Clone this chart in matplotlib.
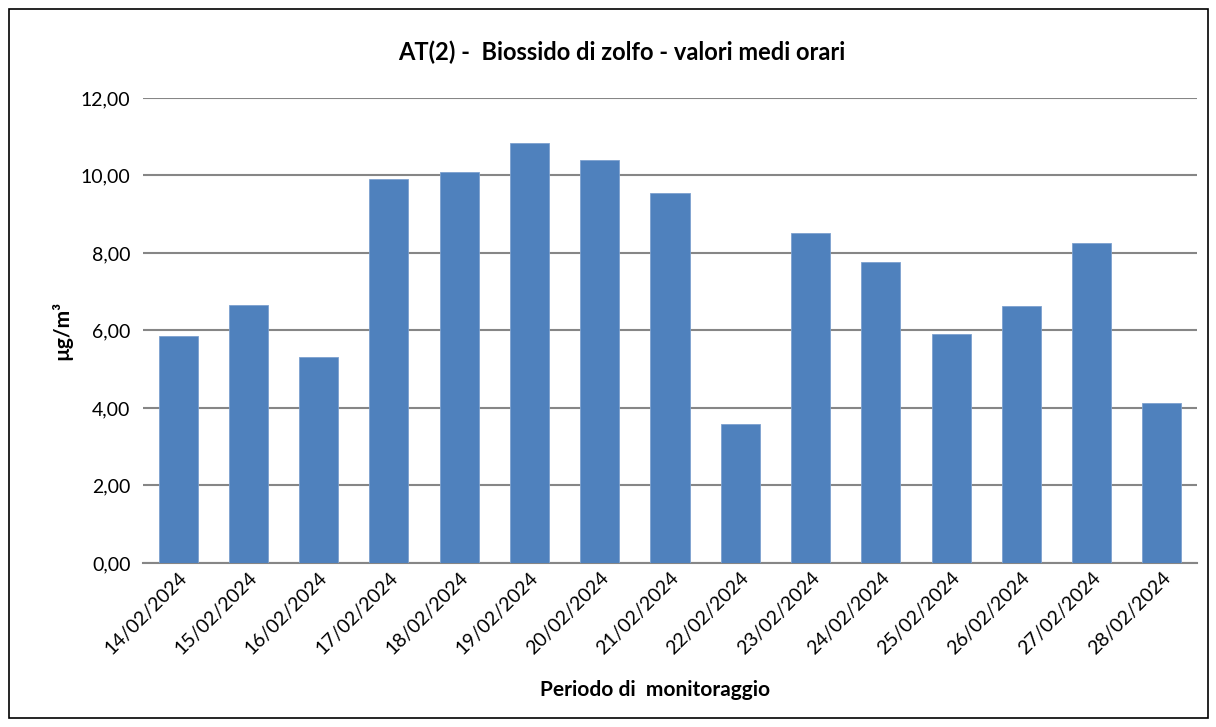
import numpy as np
import matplotlib.pyplot as plt
from matplotlib.patches import Rectangle
from matplotlib.ticker import FuncFormatter

dates = ["14/02/2024", "15/02/2024", "16/02/2024", "17/02/2024", "18/02/2024",
         "19/02/2024", "20/02/2024", "21/02/2024", "22/02/2024", "23/02/2024",
         "24/02/2024", "25/02/2024", "26/02/2024", "27/02/2024", "28/02/2024"]
so2 = [5.86, 6.66, 5.32, 9.90, 10.08, 10.84, 10.41, 9.55,
       3.59, 8.51, 7.78, 5.92, 6.63, 8.25, 4.13]

plt.rcParams['font.family'] = ['Lato', 'DejaVu Sans']

fig = plt.figure(figsize=(12.16, 7.27), dpi=100)
ax = fig.add_axes([0.1176, 0.2256, 0.8668, 0.6396])

x = np.arange(len(dates))
ax.bar(x, so2, width=0.556, color='#4F81BD', edgecolor='#7DA1CF', linewidth=0.6, zorder=3)

ax.set_xlim(-0.5, len(dates) - 0.5)
ax.set_ylim(0, 12)
ax.set_yticks(np.arange(0, 12.1, 2))
ax.yaxis.set_major_formatter(FuncFormatter(lambda v, p: f"{v:.2f}".replace('.', ',')))
ax.grid(axis='y', color='#868686', linewidth=1.5, zorder=0)

for s in ['top', 'right', 'left']:
    ax.spines[s].set_visible(False)
ax.spines['bottom'].set_color('#868686')
ax.spines['bottom'].set_linewidth(1.5)
ax.tick_params(axis='y', length=0, labelsize=14, pad=9)
ax.tick_params(axis='x', length=0, labelsize=14, pad=4)

ax.set_xticks(x)
ax.set_xticklabels(dates, rotation=45, ha='right', rotation_mode='anchor')

fig.text(0.511, 0.928, "AT(2) -  Biossido di zolfo - valori medi orari",
         ha='center', va='center', fontsize=17, fontweight='bold')
fig.text(0.539, 0.051, "Periodo di  monitoraggio", ha='center', va='center',
         fontsize=15, fontweight='bold')
fig.text(0.051, 0.546, "µg/m³", ha='center', va='center', rotation=90,
         fontsize=15, fontweight='bold')

fig.patches.append(Rectangle((9 / 1216, 9 / 727), 1199 / 1216, 709 / 727,
                             transform=fig.transFigure, fill=False,
                             edgecolor='black', linewidth=1.2))

fig.savefig("out.png", dpi=100)
